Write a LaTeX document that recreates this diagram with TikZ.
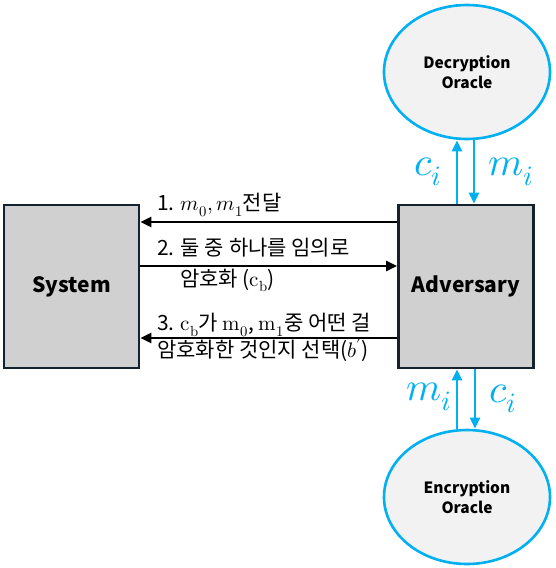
\documentclass[tikz,border=0pt]{standalone}
\usepackage{fontspec}
\usepackage{unicode-math}
\setmainfont{Noto Sans CJK KR}
\setmathfont{Latin Modern Math}
\newfontfamily\kr{Noto Sans CJK KR}
\usetikzlibrary{arrows.meta,shapes.geometric}
\definecolor{skyb}{HTML}{00B0F0}
\definecolor{boxgray}{HTML}{D0D0D0}
\definecolor{navy}{HTML}{14212E}
\definecolor{ovalfill}{HTML}{F2F2F2}
\tikzset{
  party/.style={draw=navy,line width=2.6pt,fill=boxgray,minimum width=135pt,minimum height=163pt,inner sep=0pt,font=\kr\bfseries\fontsize{21}{24}\selectfont},
  oracle/.style={ellipse,draw=skyb,line width=2.6pt,fill=ovalfill,minimum width=166pt,minimum height=134pt,inner sep=0pt,align=center,font=\kr\bfseries\fontsize{15.5}{20}\selectfont},
  msg/.style={line width=2.5pt,-{Triangle[length=11pt,width=10pt]}},
  oarrow/.style={skyb,line width=2.5pt,-{Triangle[length=11pt,width=10pt]}},
  lbl/.style={anchor=west,inner sep=0pt,font=\kr\fontsize{21}{24}\selectfont},
  olbl/.style={text=skyb,inner sep=0pt,font=\fontsize{40}{40}\selectfont},
}
\begin{document}
\begin{tikzpicture}[x=1pt,y=-1pt]
\useasboundingbox (0,0) rectangle (555,568);
\node[party] (sys) at (71.5,286.5) {System};
\node[party] (adv) at (466,286.5) {Adversary};
\node[oracle] (dec) at (467,72) {Decryption\\Oracle};
\node[oracle] (enc) at (467,497) {Encryption\\Oracle};
% messages
\draw[msg] (adv.west |- 0,222) -- (sys.east |- 0,222);
\draw[msg] (sys.east |- 0,266) -- (adv.west |- 0,266);
\draw[msg] (adv.west |- 0,338) -- (sys.east |- 0,338);
\node[lbl] (l1) at (157,205) {1. $m_0,m_1$전달};
\node[lbl] (l2a) at (157,248) {2. 둘 중 하나를 임의로};
\node[lbl] (l2b) at (180,280) {암호화 ($\symup{c}_{\symup{b}}$)};
\node[lbl] (l3a) at (157,325) {3. $\symup{c}_{\symup{b}}$가 $\symup{m}_{0}$, $\symup{m}_{1}$중 어떤 걸};
\node[lbl] (l3b) at (157,350) {암호화한 것인지 선택($b'$)};
% oracle arrows
\draw[oarrow] (adv.north -| 457,0) -- (dec.south -| 457,0);
\draw[oarrow] (dec.south -| 474,0) -- (adv.north -| 474,0);
\draw[oarrow] (enc.north -| 457,0) -- (adv.south -| 457,0);
\draw[oarrow] (adv.south -| 475,0) -- (enc.north -| 475,0);
\node[olbl] (c1) at (428,172) {$c_i$};
\node[olbl] (m1) at (511,172) {$m_i$};
\node[olbl] (m2) at (429,397) {$m_i$};
\node[olbl] (c2) at (503,399) {$c_i$};
\end{tikzpicture}
\end{document}
